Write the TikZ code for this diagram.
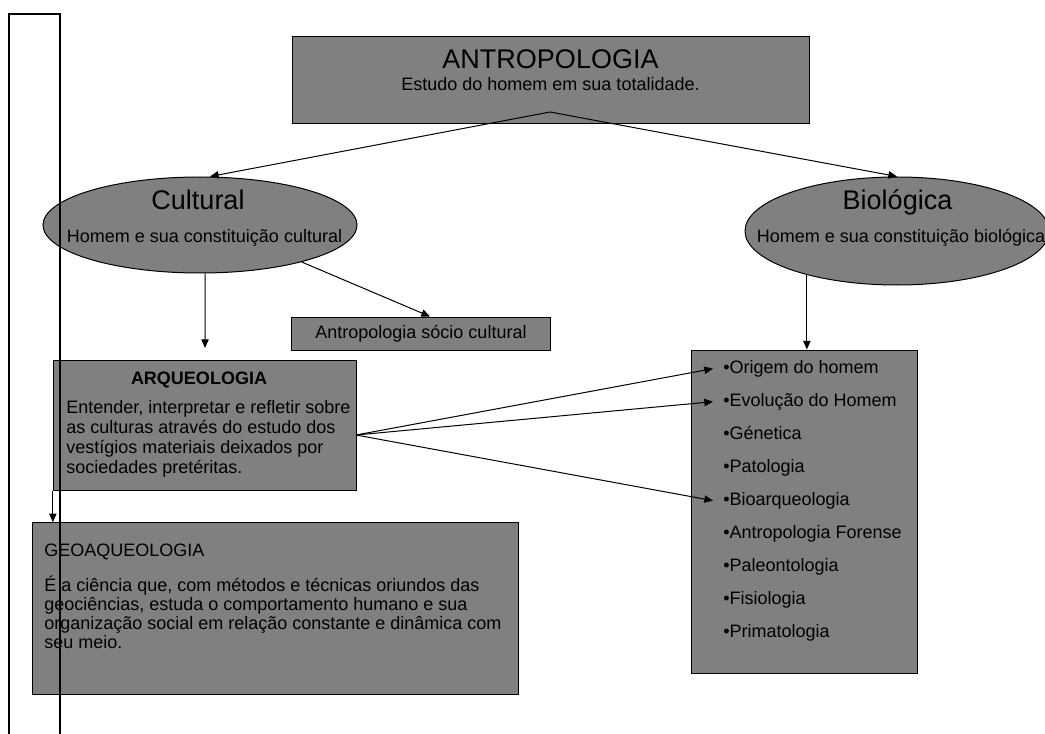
\documentclass[tikz,border=0pt]{standalone}
\usepackage{fontspec}
\setmainfont{Liberation Sans}
\usetikzlibrary{arrows.meta,shapes.geometric}
\tikzset{
    greybox/.style={draw=black, fill=gray, line width=0.75pt, inner sep=0pt},
    tip/.style={-{Triangle[length=6.5pt,width=5.5pt]}, line width=0.75pt},
    bigfont/.style={font=\fontsize{20.25}{24}\selectfont},
    smallfont/.style={font=\fontsize{13.5}{15}\selectfont},
}
\begin{document}
\begin{tikzpicture}[x=0.75pt, y=-0.75pt]
        \useasboundingbox (0,0) rectangle (1045,734);
        \fill[white] (0,0) rectangle (1045,734);

        \begin{scope}[every node/.style={greybox}]

            \node[minimum width=387.75pt, minimum height=65.25pt] (antro) at (550.5,80.5) {};
            \node[ellipse, minimum width=235.5pt, minimum height=72pt] (cultural) at (200,225) {};
            \node[ellipse, minimum width=228pt, minimum height=81pt] (biologica) at (897,231) {};
            \node[smallfont, minimum width=193.7pt, minimum height=24.75pt] (socio) at (421,333.5) {Antropologia sócio cultural};
            \node[minimum width=227pt, minimum height=97pt] (arq) at (204.7,425.4) {};
            \node[minimum width=169.7pt, minimum height=242.25pt] (lista) at (804.85,511.5) {};
            \node[minimum width=364pt, minimum height=129.2pt] (geo) at (275.35,608.85) {};

        \end{scope}

        % texts
        \node[bigfont, anchor=base] (antrotitle) at (550.5,68.3) {ANTROPOLOGIA};
        \node[smallfont, anchor=base] (antrosub) at (550.5,91) {Estudo do homem em sua totalidade.};
        \node[bigfont, anchor=base] (cultitle) at (198,210) {Cultural};
        \node[smallfont, anchor=base] (culsub) at (204.5,243) {Homem e sua constituição cultural};
        \node[bigfont, anchor=base] (biotitle) at (897.5,210) {Biológica};
        \node[smallfont, anchor=base west, inner sep=0pt] (biosub) at (756.7,243) {Homem e sua constituição biológica};

        \node[smallfont, anchor=base] (arqtitle) at (199,384) {\textbf{ARQUEOLOGIA}};
        % base of a multi-line node = last line
        \node[smallfont, anchor=base west, inner sep=0pt, align=left] (arqtext) at (66,473)
            {Entender, interpretar e refletir sobre\\as culturas através do estudo dos\\vestígios materiais deixados por\\sociedades pretéritas.};

        \node[smallfont, anchor=base west, inner sep=0pt] (geotitle) at (44,556.7) {GEOAQUEOLOGIA};
        \node[font=\fontsize{13.5}{14.25}\selectfont, anchor=base west, inner sep=0pt, align=left] (geotext) at (44,648.7)
            {É a ciência que, com métodos e técnicas oriundos das\\geociências, estuda o comportamento humano e sua\\organização social em relação constante e dinâmica com\\seu meio.};

        \foreach \t [count=\i] in {Origem do homem, Evolução do Homem, Génetica, Patologia,
            Bioarqueologia, Antropologia Forense, Paleontologia, Fisiologia, Primatologia}
            \node[smallfont, anchor=base west, inner xsep=7.5pt, inner ysep=0pt] (item\i) at (713,340.3+33*\i) {•\t};

        % connectors
        \coordinate (apex) at (550,112);
        \coordinate (culend) at (205,348);
        \coordinate (arqout) at (356,435);

        \path[tip] (apex) edge ([xshift=7.5pt]cultural.north);
        \path[tip] (apex) edge (biologica.north);

        \path[tip] (cultural.-84) edge (culend);
        \path[tip] (cultural.-20) edge ([xshift=6.75pt]socio.north);
        \path[tip] (biologica.206.8) edge (biologica.206.8 |- lista.north);

        \path[tip] (arqout) edge (item1.west);
        \path[tip] (arqout) edge (item2.west);
        \path[tip] (arqout) edge (item5.west);

        \path[tip] (arq.south west) edge (arq.south west |- geo.north);

        % frame
        \draw[line width=1.2pt] (9,745) -- (9,14) -- (60,14) -- (60,745);
    \end{tikzpicture}
\end{document}
